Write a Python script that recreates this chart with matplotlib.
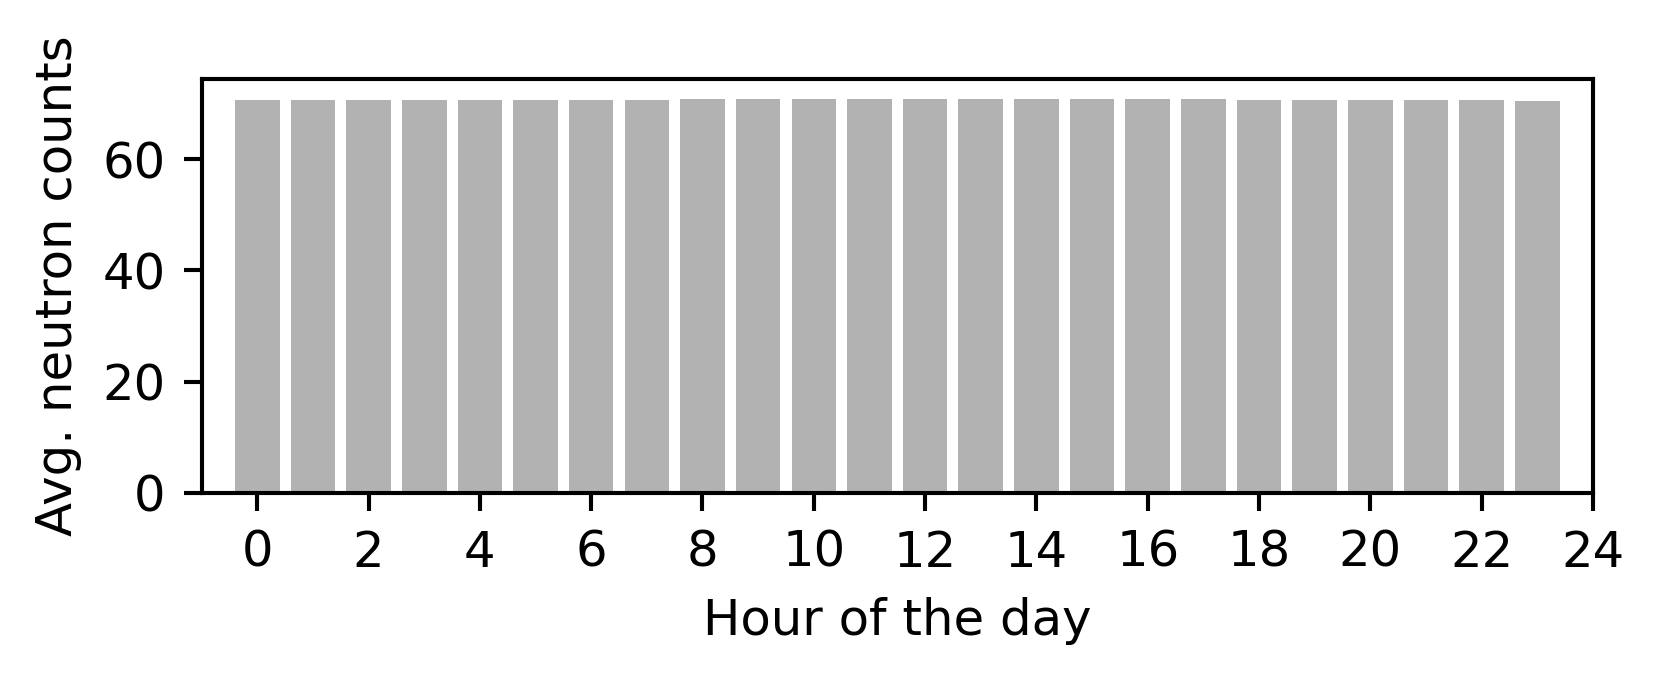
import matplotlib
matplotlib.use('Agg')
import matplotlib.pyplot as plt
import numpy as np

# Average neutron counts per hour of day
hours = list(range(24))
avg_counts = [70.6, 70.6, 70.6, 70.65, 70.65, 70.7, 70.7, 70.75,
              70.8, 70.8, 70.8, 70.85, 70.85, 70.9, 70.9, 70.85,
              70.8, 70.8, 70.7, 70.7, 70.65, 70.65, 70.6, 70.55]
xtick_vals = list(range(0, 25, 2))

plt.rcParams['font.size'] = 9.7

DPI = 370
fig, ax = plt.subplots(figsize=(1661 / DPI, 681 / DPI), dpi=DPI)
fig.subplots_adjust(left=0.1214, right=0.959, top=0.884, bottom=0.2765)

ax.bar(hours, avg_counts, width=0.8, color='gray', alpha=0.6)
ax.set_xlim(-1, 24)
ax.set_xticks(xtick_vals)
ax.set_xlabel('Hour of the day')
ax.set_ylabel('Avg. neutron counts')

fig.savefig('out.png', dpi=DPI)
